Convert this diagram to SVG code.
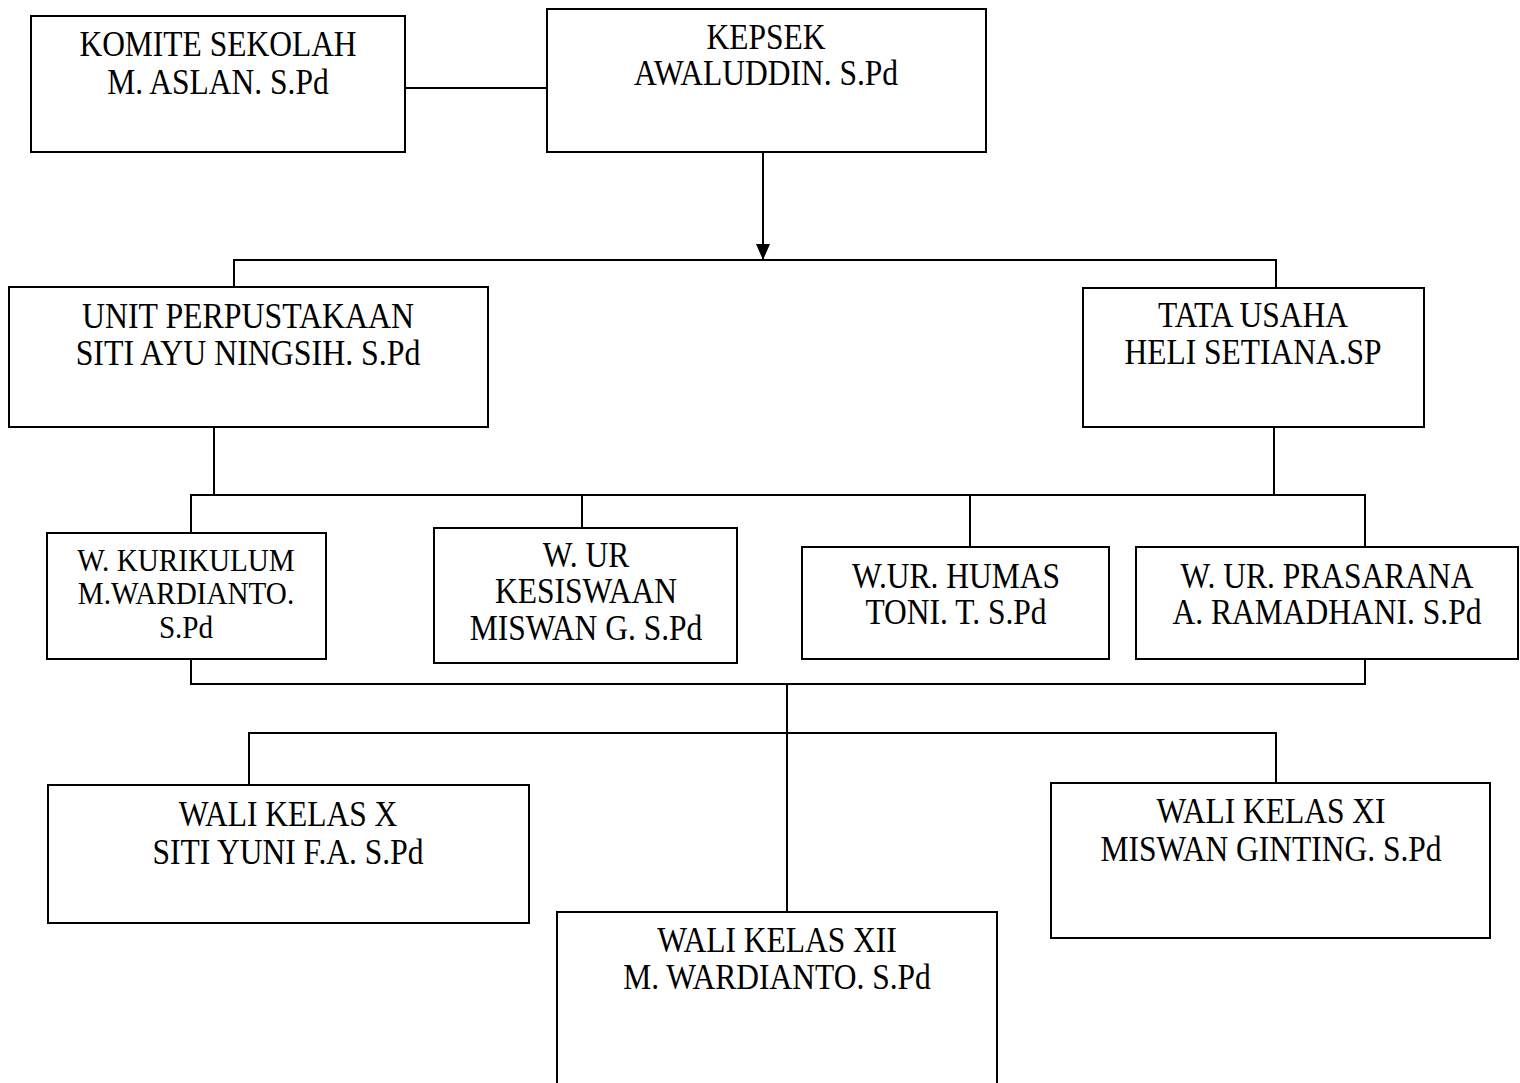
<svg xmlns="http://www.w3.org/2000/svg" width="1520" height="1083" viewBox="0 0 1520 1083">
<style>
.box{fill:#fff;stroke:#000;stroke-width:2}
.ln{fill:none;stroke:#000;stroke-width:2}
text{font-family:"Liberation Serif","Times New Roman",serif;font-size:35px;fill:#000;text-anchor:middle}
.s{font-size:31px}
</style>
<defs>
<marker id="arr" markerWidth="16" markerHeight="14" refX="16" refY="7" orient="auto" markerUnits="userSpaceOnUse">
<path d="M0,0 L16,7 L0,14 Z" fill="#000"/>
</marker>
</defs>
<rect width="1520" height="1083" fill="#fff"/>
<g id="connectors">
<line class="ln" x1="405" y1="88" x2="547" y2="88"/>
<line class="ln" x1="763" y1="152" x2="763" y2="260" marker-end="url(#arr)"/>
<polyline class="ln" points="234,287 234,260 1276,260 1276,288"/>
<line class="ln" x1="214" y1="427" x2="214" y2="495"/>
<line class="ln" x1="1274" y1="427" x2="1274" y2="495"/>
<polyline class="ln" points="191,533 191,495 1365,495 1365,547"/>
<line class="ln" x1="582" y1="495" x2="582" y2="528"/>
<line class="ln" x1="970" y1="495" x2="970" y2="547"/>
<polyline class="ln" points="191,659 191,684 1365,684 1365,659"/>
<line class="ln" x1="787" y1="684" x2="787" y2="912"/>
<polyline class="ln" points="249,785 249,733 1276,733 1276,783"/>
</g>
<g id="komite">
<rect class="box" x="31" y="16" width="374" height="136"/>
<g transform="translate(218 0) scale(0.9 1)">
<text x="0" y="56">KOMITE SEKOLAH</text>
<text x="0" y="94">M. ASLAN. S.Pd</text>
</g>
</g>
<g id="kepsek">
<rect class="box" x="547" y="9" width="439" height="143"/>
<g transform="translate(766 0) scale(0.9 1)">
<text x="0" y="49">KEPSEK</text>
<text x="0" y="85">AWALUDDIN. S.Pd</text>
</g>
</g>
<g id="perpustakaan">
<rect class="box" x="9" y="287" width="479" height="140"/>
<g transform="translate(248 0) scale(0.91 1)">
<text x="0" y="328">UNIT PERPUSTAKAAN</text>
<text x="0" y="365">SITI AYU NINGSIH. S.Pd</text>
</g>
</g>
<g id="tatausaha">
<rect class="box" x="1083" y="288" width="341" height="139"/>
<g transform="translate(1253 0) scale(0.9 1)">
<text x="0" y="327">TATA USAHA</text>
<text x="0" y="364">HELI SETIANA.SP</text>
</g>
</g>
<g id="kurikulum">
<rect class="box" x="47" y="533" width="279" height="126"/>
<g transform="translate(186 0) scale(0.94 1)">
<text class="s" x="0" y="571">W. KURIKULUM</text>
<text class="s" x="0" y="604">M.WARDIANTO.</text>
<text class="s" x="0" y="638">S.Pd</text>
</g>
</g>
<g id="kesiswaan">
<rect class="box" x="434" y="528" width="303" height="135"/>
<g transform="translate(586 0) scale(0.9 1)">
<text x="0" y="567">W. UR</text>
<text x="0" y="603">KESISWAAN</text>
<text x="0" y="640">MISWAN G. S.Pd</text>
</g>
</g>
<g id="humas">
<rect class="box" x="802" y="547" width="307" height="112"/>
<g transform="translate(956 0) scale(0.9 1)">
<text x="0" y="588">W.UR. HUMAS</text>
<text x="0" y="624">TONI. T. S.Pd</text>
</g>
</g>
<g id="prasarana">
<rect class="box" x="1136" y="547" width="382" height="112"/>
<g transform="translate(1327 0) scale(0.9 1)">
<text x="0" y="588">W. UR. PRASARANA</text>
<text x="0" y="624">A. RAMADHANI. S.Pd</text>
</g>
</g>
<g id="walix">
<rect class="box" x="48" y="785" width="481" height="138"/>
<g transform="translate(288 0) scale(0.9 1)">
<text x="0" y="826">WALI KELAS X</text>
<text x="0" y="864">SITI YUNI F.A. S.Pd</text>
</g>
</g>
<g id="walixii">
<rect class="box" x="557" y="912" width="440" height="180"/>
<g transform="translate(777 0) scale(0.9 1)">
<text x="0" y="952">WALI KELAS XII</text>
<text x="0" y="989">M. WARDIANTO. S.Pd</text>
</g>
</g>
<g id="walixi">
<rect class="box" x="1051" y="783" width="439" height="155"/>
<g transform="translate(1271 0) scale(0.9 1)">
<text x="0" y="823">WALI KELAS XI</text>
<text x="0" y="861">MISWAN GINTING. S.Pd</text>
</g>
</g>
</svg>
